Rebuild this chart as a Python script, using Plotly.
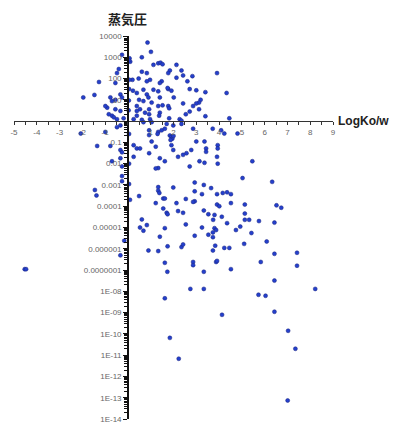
import plotly.graph_objects as go

# LogKo/w values (x) and vapour pressure values (y)
log_kow = [
    0.86, -0.26, 0.61, 1.01, 0.07, 0.10, 1.12, -0.40, -0.48, 0.61,
    0.83, 1.33, 0.47, 0.97, 0.83, 0.20, -1.27, -0.55, 0.22, 0.39,
    0.68, 0.83, 1.33, -1.96, -1.47, -0.77, -0.70, -0.33, 0.04, 0.49,
    0.68, 0.90, 1.04, -0.91, -0.55, -0.33, -0.70, -0.84, 0.39, 0.39,
    0.39, 0.53, 0.75, 0.93, 0.93, 1.33, 1.40, -0.19, 0.25, 0.61,
    0.97, 1.43, 1.52, 2.13, 1.84, 1.77, 2.35, 2.42, 2.83, 3.91,
    1.48, 1.40, 2.13, 2.61, 1.77, 1.91, 2.71, 3.00, 3.40, 4.33,
    1.40, 2.01, 3.19, 3.12, 3.00, 2.42, 1.52, 1.77, 1.81, 2.86,
    3.12, 2.71, 2.54, 1.37, 3.40, 1.81, 2.27, 2.35, 4.45, -0.99,
    -0.62, -0.48, -0.55, -0.26, 0.06, 0.05, 0.03, 0.05, 1.12, 1.74,
    -2.07, -0.99, -0.48, -0.33, -1.35, -0.77, -0.33, -0.26, -0.70, -0.33,
    -0.26, -0.26, -0.26, -1.45, -1.38, 0.25, 0.39, 0.53, 0.25, 0.49,
    0.09, 0.93, 0.93, 1.04, 0.93, 1.22, 1.33, 0.68, 1.04, 1.33,
    1.33, 1.48, 1.62, 1.30, 1.84, 1.91, 1.95, 1.87, 2.00, 1.70,
    1.99, 2.35, 2.86, 3.72, 4.09, 4.23, 4.81, 1.91, 1.99, 3.00,
    3.36, 3.43, 3.43, 3.94, 3.94, 2.78, 2.57, 2.42, 2.20, 1.40,
    1.62, 2.71, 3.14, 3.36, 3.91, 3.94, 5.46, 5.03, 1.22, 2.93,
    1.99, 1.33, 1.38, 1.22, 1.55, 1.62, 2.13, 2.54, 2.93, 2.93,
    1.55, 1.70, 1.74, 2.20, 2.42, 0.61, 0.53, 0.68, 0.83, 1.62,
    2.54, 2.93, 1.40, -0.16, -0.33, 0.90, 1.33, 1.74, 2.35, 2.42,
    1.62, 2.86, 2.86, 1.73, -4.53, -4.47, 6.33, 3.33, 3.65, 3.25,
    3.91, 4.16, 4.35, 4.52, 2.86, 3.91, 4.01, 4.52, 5.13, 6.52,
    6.73, 3.33, 3.53, 3.80, 4.12, 3.74, 5.13, 5.13, 5.32, 5.75,
    4.35, 3.25, 3.80, 3.87, 4.74, 4.93, 6.43, 3.53, 3.73, 3.73,
    5.42, 6.09, 3.83, 3.73, 4.23, 4.45, 5.10, 6.43, 7.42, 3.87,
    3.91, 5.83, 7.42, 3.33, 4.52, 6.43, 2.74, 3.33, 5.73, 6.04,
    8.22, 4.13, 6.43, 7.03, 7.35, 7.01, 1.62, 1.84, 2.23, 0.05,
    0.05, 0.05,
]
vapour_pressure = [
    4.9e3, 1.3e3, 1.0e3, 1.8e3, 8.9e2, 6.2e2, 4.4e2, 2.8e2, 1.8e2, 2.1e2,
    1.8e2, 5.2e2, 1.0e2, 8.7e1, 7.4e1, 8.7e1, 6.9e1, 6.2e1, 2.7e1, 2.1e1,
    3.0e1, 1.8e1, 2.5e1, 1.3e1, 1.7e1, 1.3e1, 8.7, 1.8e1, 9.3, 1.0e1,
    8.7, 1.3e1, 7.4, 4.3, 3.6, 3.0, 1.8, 2.1, 5.1, 3.0,
    1.8, 3.6, 2.5, 3.6, 2.1, 5.1, 2.5, 1.35, 1.23, 1.15,
    1.23, 5.6e2, 4.7e2, 4.4e2, 2.4e2, 1.8e2, 2.4e2, 1.4e2, 1.3e2, 1.8e2,
    7.4e1, 6.2e1, 1.1e2, 7.4e1, 3.2e1, 2.7e1, 3.2e1, 2.8e1, 2.3e1, 2.1e1,
    1.3e1, 1.3e1, 1.0e1, 7.4, 6.8, 6.8, 5.5, 5.1, 4.0, 5.1,
    3.6, 2.8, 2.1, 1.8, 1.7, 1.35, 1.23, 1.05, 1.35, 5.1,
    1.5, 1.23, 1.0e1, 1.3e1, 8.7e1, 7.1e2, 3.2, 3.2e1, 3.0e1, 3.6e1,
    2.6e-1, 3.1e-1, 5.2e-1, 6.3e-1, 6.8e-2, 6.8e-2, 4.4e-2, 3.4e-2, 1.3e-2, 1.8e-2,
    7.4e-3, 2.6e-3, 1.5e-3, 5.8e-4, 3.2e-4, 7.4e-2, 5.2e-2, 5.2e-2, 2.1e-2, 3.0e-4,
    2.0e-4, 3.7e-1, 2.2e-1, 1.1e-1, 3.1e-2, 6.3e-2, 3.1e-1, 8.9e-1, 8.9e-1, 6.2e-3,
    7.9e-4, 3.7e-1, 4.4e-1, 2.5e-1, 2.1e-1, 1.8e-1, 1.5e-1, 1.3e-1, 2.0e-1, 7.4e-1,
    6.3e-1, 7.4e-1, 4.4e-1, 4.4e-1, 3.7e-1, 2.6e-1, 2.6e-1, 7.4e-2, 4.4e-2, 1.1e-1,
    1.1e-1, 5.2e-2, 3.6e-2, 7.4e-2, 5.2e-2, 4.4e-2, 3.1e-2, 2.6e-2, 2.1e-2, 1.8e-2,
    1.3e-2, 7.4e-3, 1.3e-2, 1.1e-2, 2.1e-2, 1.0e-2, 1.3e-2, 2.1e-3, 6.0e-3, 1.3e-3,
    7.6e-4, 5.4e-4, 4.2e-4, 1.4e-4, 2.3e-4, 2.3e-4, 1.4e-4, 2.2e-4, 5.0e-4, 1.7e-4,
    7.8e-5, 4.9e-5, 4.2e-5, 5.9e-5, 4.9e-5, 2.4e-5, 1.0e-5, 7.1e-6, 1.3e-5, 9.3e-6,
    1.4e-5, 4.1e-6, 3.7e-6, 2.4e-6, 4.9e-7, 8.3e-7, 7.8e-7, 1.3e-6, 1.2e-6, 1.6e-6,
    2.2e-7, 2.4e-7, 1.7e-7, 8.3e-8, 1.1e-7, 1.1e-7, 1.4e-3, 1.0e-3, 7.1e-4, 3.7e-4,
    3.7e-4, 4.2e-4, 4.5e-4, 3.7e-4, 1.6e-4, 1.2e-4, 1.0e-4, 1.4e-4, 1.2e-4, 1.1e-4,
    8.5e-5, 6.3e-5, 4.2e-5, 3.9e-5, 3.2e-5, 2.3e-5, 4.5e-5, 2.3e-5, 2.3e-5, 2.0e-5,
    1.6e-5, 1.0e-5, 9.3e-6, 7.6e-6, 7.6e-6, 1.1e-5, 1.7e-5, 4.6e-6, 3.5e-6, 5.9e-6,
    5.5e-6, 2.2e-6, 1.4e-6, 8.3e-7, 1.1e-6, 1.1e-6, 1.7e-6, 5.8e-7, 6.5e-7, 2.4e-7,
    2.7e-7, 2.4e-7, 1.6e-7, 8.3e-8, 1.1e-7, 3.2e-8, 1.3e-8, 1.3e-8, 6.9e-9, 6.2e-9,
    1.3e-8, 7.9e-10, 1.1e-9, 1.4e-10, 2.0e-11, 7.4e-14, 4.7e-9, 6.5e-11, 6.8e-12, 2.5e-1,
    1.0e-2, 1.1e-3,
]

x_tick_vals = [-5, -4, -3, -2, -1, 1, 2, 3, 4, 5, 6, 7, 8, 9]
x_tick_text = ["-5", "-4", "-3", "-2", "-1", "1", "2", "3", "4", "5", "6", "7", "8", "9"]
y_tick_vals = [1e4, 1e3, 1e2, 1e1, 1e-1, 1e-2, 1e-3, 1e-4, 1e-5, 1e-6, 1e-7,
               1e-8, 1e-9, 1e-10, 1e-11, 1e-12, 1e-13, 1e-14]
y_tick_text = ["10000", "1000", "100", "10", "0.1", "0.01", "0.001", "0.0001",
               "0.00001", "0.000001", "0.0000001", "1E-08", "1E-09", "1E-10",
               "1E-11", "1E-12", "1E-13", "1E-14"]

X_RANGE = [-5, 9]
Y_RANGE = [-14, 4]
x_pos = (0 - X_RANGE[0]) / (X_RANGE[1] - X_RANGE[0])
y_pos = (0 - Y_RANGE[0]) / (Y_RANGE[1] - Y_RANGE[0])

fig = go.Figure()
fig.add_trace(go.Scatter(
    x=log_kow, y=vapour_pressure, mode="markers",
    marker=dict(size=4, color="#2440cc", line=dict(color="#1a237e", width=0.5)),
    showlegend=False, cliponaxis=False,
))

tick_font = dict(family="Liberation Sans, Arial, sans-serif", size=8, color="#666666")

# The page body has an 8px default margin, so the figure is sized to compensate.
fig.update_layout(
    width=389, height=418,
    margin=dict(l=3, r=64, t=28, b=2),
    paper_bgcolor="white", plot_bgcolor="white",
    xaxis=dict(
        range=X_RANGE, anchor="free", position=y_pos,
        showgrid=False, zeroline=False, showline=True, linecolor="#333333", linewidth=1.2,
        tickmode="array", tickvals=x_tick_vals, ticktext=x_tick_text,
        ticks="outside", ticklen=3, tickcolor="#333333", tickwidth=1,
        tickfont=tick_font, ticklabeloverflow="allow",
        minor=dict(dtick=0.5, tick0=0, ticks="outside", ticklen=3, tickcolor="#333333", showgrid=False),
    ),
    yaxis=dict(
        type="log", range=Y_RANGE, anchor="free", position=x_pos,
        showgrid=False, zeroline=False, showline=True, linecolor="#111111", linewidth=1.5,
        tickmode="array", tickvals=y_tick_vals, ticktext=y_tick_text,
        ticks="outside", ticklen=4, tickcolor="#111111", tickwidth=1.2,
        tickfont=tick_font, ticklabeloverflow="allow",
        minor=dict(dtick="D1", ticks="outside", ticklen=3, tickcolor="#111111", showgrid=False),
    ),
    xaxis2=dict(
        range=X_RANGE, overlaying="x", anchor="free", position=y_pos,
        showgrid=False, zeroline=False, showline=False, showticklabels=False,
        tickmode="linear", tick0=0, dtick=0.5,
        ticks="inside", ticklen=3, tickcolor="#333333", tickwidth=1,
    ),
    yaxis2=dict(
        type="log", range=Y_RANGE, overlaying="y", anchor="free", position=x_pos,
        showgrid=False, zeroline=False, showline=False, showticklabels=False,
        tickmode="array", tickvals=y_tick_vals,
        ticks="inside", ticklen=4, tickcolor="#111111", tickwidth=1.2,
        minor=dict(dtick="D1", ticks="inside", ticklen=3, tickcolor="#111111", showgrid=False),
    ),
    annotations=[
        dict(text="<b>蒸気圧</b>", xref="paper", yref="paper", x=x_pos, y=1,
             xanchor="center", yanchor="bottom", yshift=6, showarrow=False,
             font=dict(family="Noto Sans CJK JP", size=13, color="#222222")),
        dict(text="<b>LogKo/w</b>", xref="paper", yref="paper", x=1, y=y_pos,
             xanchor="left", yanchor="middle", xshift=3, showarrow=False,
             font=dict(family="Liberation Sans, Arial, sans-serif", size=12, color="#222222")),
    ],
)

fig.write_html("out.html")
